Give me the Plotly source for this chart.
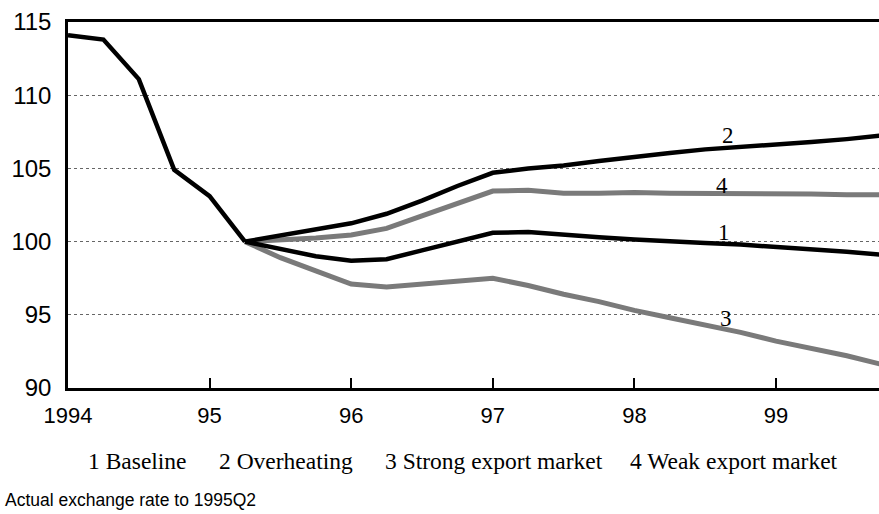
import plotly.graph_objects as go

# Quarterly time axis (1994Q1 .. 1999Q4)
hist_x = [1994.0, 1994.25, 1994.5, 1994.75, 1995.0, 1995.25]
hist_y = [114.1, 113.8, 111.1, 104.9, 103.1, 100.0]

fc_x = [1995.25, 1995.5, 1995.75,
        1996.0, 1996.25, 1996.5, 1996.75,
        1997.0, 1997.25, 1997.5, 1997.75,
        1998.0, 1998.25, 1998.5, 1998.75,
        1999.0, 1999.25, 1999.5, 1999.75]

baseline = [100.0, 99.5, 99.0,
            98.7, 98.8, 99.4, 100.0,
            100.6, 100.65, 100.45, 100.3,
            100.15, 100.0, 99.9, 99.8,
            99.65, 99.5, 99.3, 99.1]
overheating = [100.0, 100.4, 100.8,
               101.25, 101.9, 102.8, 103.8,
               104.7, 105.0, 105.2, 105.5,
               105.8, 106.05, 106.3, 106.45,
               106.6, 106.8, 107.0, 107.25]
strong_export = [100.0, 98.9, 98.0,
                 97.1, 96.9, 97.1, 97.3,
                 97.5, 97.0, 96.4, 95.9,
                 95.3, 94.8, 94.3, 93.8,
                 93.2, 92.7, 92.2, 91.6]
weak_export = [100.0, 100.1, 100.25,
               100.45, 100.9, 101.75, 102.6,
               103.45, 103.5, 103.3, 103.3,
               103.35, 103.3, 103.3, 103.3,
               103.25, 103.25, 103.2, 103.2]

x_tick_vals = [1994, 1995, 1996, 1997, 1998, 1999]
x_tick_text = ["1994", "95", "96", "97", "98", "99"]
y_tick_vals = [90, 95, 100, 105, 110, 115]

line_labels = ["1", "2", "3", "4"]
label_x = [1998.63, 1998.66, 1998.65, 1998.62]
label_y = [100.65, 107.27, 94.78, 103.86]

legend_items = ["1 Baseline", "2 Overheating", "3 Strong export market", "4 Weak export market"]
legend_x_px = [86, 217, 383, 628]
footnote = "Actual exchange rate to 1995Q2"

BLACK = "#000000"
GREY = "#7a7a7a"
W, H = 879, 514
left, top, bottom_px = 68, 21.7, 388.3
plot_w = W - left
plot_h = bottom_px - top


def px_x(px):
    return (px - left) / plot_w


def px_y(py):
    return (bottom_px - py) / plot_h


fig = go.Figure()
fig.add_trace(go.Scatter(x=fc_x, y=strong_export, mode="lines",
                         line=dict(color=GREY, width=5)))
fig.add_trace(go.Scatter(x=fc_x, y=weak_export, mode="lines",
                         line=dict(color=GREY, width=5)))
fig.add_trace(go.Scatter(x=fc_x, y=baseline, mode="lines",
                         line=dict(color=BLACK, width=4.5)))
fig.add_trace(go.Scatter(x=fc_x, y=overheating, mode="lines",
                         line=dict(color=BLACK, width=4.5)))
fig.add_trace(go.Scatter(x=hist_x, y=hist_y, mode="lines",
                         line=dict(color=BLACK, width=4.5)))

for t, xx, yy in zip(line_labels, label_x, label_y):
    fig.add_annotation(x=xx, y=yy, text=t, showarrow=False,
                       font=dict(family="Liberation Serif, Times New Roman, serif",
                                 size=23, color="black"),
                       xanchor="center", yanchor="middle")

for t, px in zip(legend_items, legend_x_px):
    fig.add_annotation(x=px_x(px), y=px_y(461), xref="paper", yref="paper",
                       text=t, showarrow=False, xanchor="left", yanchor="middle",
                       font=dict(family="Liberation Serif, Times New Roman, serif",
                                 size=23.5, color="black"))

fig.add_annotation(x=px_x(3), y=px_y(500), xref="paper", yref="paper",
                   text=footnote, showarrow=False, xanchor="left", yanchor="middle",
                   font=dict(family="Liberation Sans, Arial, sans-serif",
                             size=17.5, color="black"))

x_end = 1994 + plot_w / 141.6

fig.update_layout(
    width=W, height=H,
    margin=dict(l=left, r=0, t=top, b=H - bottom_px, pad=0),
    paper_bgcolor="white", plot_bgcolor="white",
    showlegend=False,
    font=dict(family="Liberation Sans, Arial, sans-serif", size=22, color="black"),
)
fig.update_xaxes(range=[1994, x_end], tickvals=x_tick_vals, ticktext=x_tick_text,
                 showgrid=False, zeroline=False,
                 showline=True, linecolor="black", linewidth=2.5, mirror=True,
                 ticks="inside", ticklen=10, tickwidth=1.5, tickcolor="black",
                 tickfont=dict(size=22), ticklabelstandoff=6)
fig.update_yaxes(range=[90, 115], tickvals=y_tick_vals,
                 showgrid=True, gridcolor="#666666", gridwidth=1, griddash="dot",
                 zeroline=False, showline=True, linecolor="black", linewidth=2.5,
                 ticks="", tickfont=dict(size=24), ticklabelstandoff=9)

fig.write_html("out.html", config={"displayModeBar": False},
               post_script="document.body.style.margin='0';document.body.style.overflow='hidden';")
